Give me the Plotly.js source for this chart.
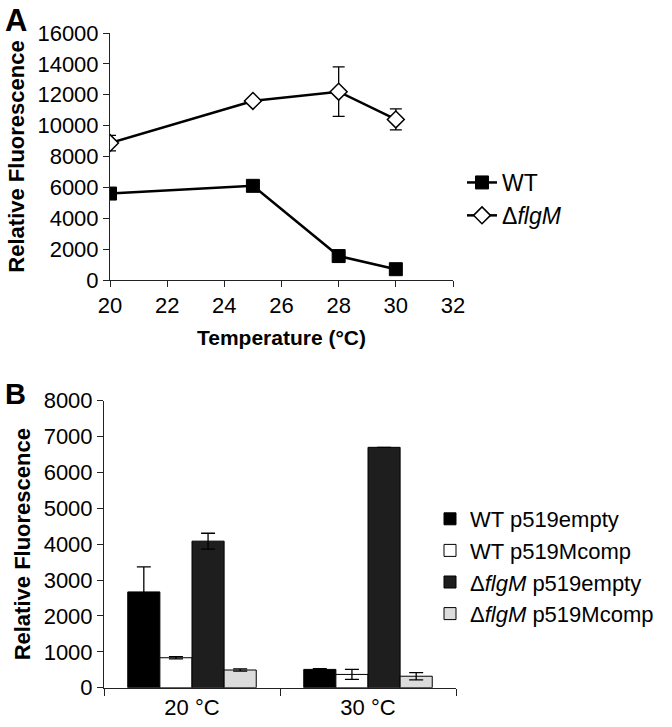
<!DOCTYPE html>
<html>
<head>
<meta charset="utf-8">
<script src="https://cdn.plot.ly/plotly-3.0.1.min.js"></script>
<style>html,body{margin:0;padding:0;background:#fff}#chart{width:672px;height:727px}</style>
</head>
<body>
<div id="chart"></div>
<script>
// Panel A data
const tempsA = [20, 25, 28, 30];
const wtA = [5600, 6100, 1550, 700];
const wtAErr = [250, 150, 350, 100];
const flgmA = [8870, 11600, 12200, 10400];
const flgmAErr = [500, 150, 1600, 680];

// Panel B data
const catsB = ['20 °C', '30 °C'];
const wtEmpty = [2670, 510];
const wtEmptyErr = [700, 20];
const wtComp = [835, 370];
const wtCompErr = [30, 140];
const flgmEmpty = [4085, 6700];
const flgmEmptyErr = [220, null];
const flgmComp = [493, 320];
const flgmCompErr = [30, 100];

const W = 672, H = 727;
const fx = p => p / W;
const fy = p => 1 - p / H;
const FONT = 'Arial, Liberation Sans, sans-serif';
const AX = '#222';

const traces = [
  {x: tempsA, y: wtA, name: 'WT', type: 'scatter', mode: 'lines+markers',
   line: {color: '#000', width: 2.5},
   marker: {symbol: 'square', size: 13, color: '#000', line: {color: '#000', width: 1}},
   error_y: {type: 'data', array: wtAErr, visible: true, color: '#000', thickness: 1.3, width: 6},
   xaxis: 'x', yaxis: 'y', legend: 'legend'},
  {x: tempsA, y: flgmA, name: 'Δ<i>flgM</i>', type: 'scatter', mode: 'lines+markers',
   line: {color: '#000', width: 2.5},
   marker: {symbol: 'diamond', size: 13, color: '#fff', line: {color: '#000', width: 1.5}},
   error_y: {type: 'data', array: flgmAErr, visible: true, color: '#000', thickness: 1.3, width: 6},
   xaxis: 'x', yaxis: 'y', legend: 'legend'},
  {x: catsB, y: wtEmpty, name: 'WT p519empty', type: 'bar',
   marker: {color: '#000000', line: {color: '#000', width: 1}},
   error_y: {type: 'data', array: wtEmptyErr, visible: true, color: '#000', thickness: 1.3, width: 7},
   xaxis: 'x2', yaxis: 'y2', legend: 'legend2'},
  {x: catsB, y: wtComp, name: 'WT p519Mcomp', type: 'bar',
   marker: {color: '#ffffff', line: {color: '#000', width: 1}},
   error_y: {type: 'data', array: wtCompErr, visible: true, color: '#000', thickness: 1.3, width: 7},
   xaxis: 'x2', yaxis: 'y2', legend: 'legend2'},
  {x: catsB, y: flgmEmpty, name: 'Δ<i>flgM</i> p519empty', type: 'bar',
   marker: {color: '#1e1e1e', line: {color: '#000', width: 1}},
   error_y: {type: 'data', array: flgmEmptyErr, visible: true, color: '#000', thickness: 1.3, width: 7},
   xaxis: 'x2', yaxis: 'y2', legend: 'legend2'},
  {x: catsB, y: flgmComp, name: 'Δ<i>flgM</i> p519Mcomp', type: 'bar',
   marker: {color: '#dcdcdc', line: {color: '#000', width: 1}},
   error_y: {type: 'data', array: flgmCompErr, visible: true, color: '#000', thickness: 1.3, width: 7},
   xaxis: 'x2', yaxis: 'y2', legend: 'legend2'}
];

const axBase = {
  showgrid: false, zeroline: false, showline: true, linecolor: AX, linewidth: 1,
  ticks: 'outside', ticklen: 6, tickcolor: AX, tickwidth: 1, automargin: false,
  tickfont: {family: FONT, size: 22, color: '#000'}
};

const layout = {
  width: W, height: H,
  margin: {l: 0, r: 0, t: 0, b: 0, autoexpand: false},
  paper_bgcolor: '#fff', plot_bgcolor: '#fff',
  font: {family: FONT, color: '#000'},
  showlegend: true,
  barmode: 'group', bargap: 0.27, bargroupgap: 0,
  xaxis: Object.assign({}, axBase, {
    domain: [fx(110), fx(453)], anchor: 'y', range: [20, 32], dtick: 2, tick0: 20,
    title: {text: '<b>Temperature (°C)</b>', font: {family: FONT, size: 21}, standoff: 12}
  }),
  yaxis: Object.assign({}, axBase, {
    domain: [fy(280), fy(33)], anchor: 'x', range: [0, 16000], dtick: 2000, tickformat: 'd',
    title: {text: '<b>Relative Fluorescence</b>', font: {family: FONT, size: 22}, standoff: 6}
  }),
  xaxis2: Object.assign({}, axBase, {
    domain: [fx(104), fx(456)], anchor: 'y2', type: 'category', tickson: 'boundaries',
    ticklen: 7
  }),
  yaxis2: Object.assign({}, axBase, {
    domain: [fy(687.7), fy(400.7)], anchor: 'x2', range: [0, 8000], dtick: 1000, tickformat: 'd',
    title: {text: '<b>Relative Fluorescence</b>', font: {family: FONT, size: 22}, standoff: 6}
  }),
  legend: {x: fx(462), y: fy(161), xanchor: 'left', yanchor: 'top',
    font: {family: FONT, size: 23, color: '#000'}, bgcolor: 'rgba(0,0,0,0)', itemwidth: 30, tracegroupgap: 0},
  legend2: {x: fx(430), y: fy(498), xanchor: 'left', yanchor: 'top',
    font: {family: FONT, size: 22, color: '#000'}, bgcolor: 'rgba(0,0,0,0)', itemwidth: 30, tracegroupgap: 2},
  annotations: [
    {text: '<b>A</b>', x: fx(3), y: fy(1), xref: 'paper', yref: 'paper', xanchor: 'left', yanchor: 'top',
     showarrow: false, font: {family: FONT, size: 31, color: '#000'}},
    {text: '<b>B</b>', x: fx(3), y: fy(376), xref: 'paper', yref: 'paper', xanchor: 'left', yanchor: 'top',
     showarrow: false, font: {family: FONT, size: 29, color: '#000'}}
  ]
};

Plotly.newPlot('chart', traces, layout, {displayModeBar: false, staticPlot: true});
</script>
</body>
</html>
